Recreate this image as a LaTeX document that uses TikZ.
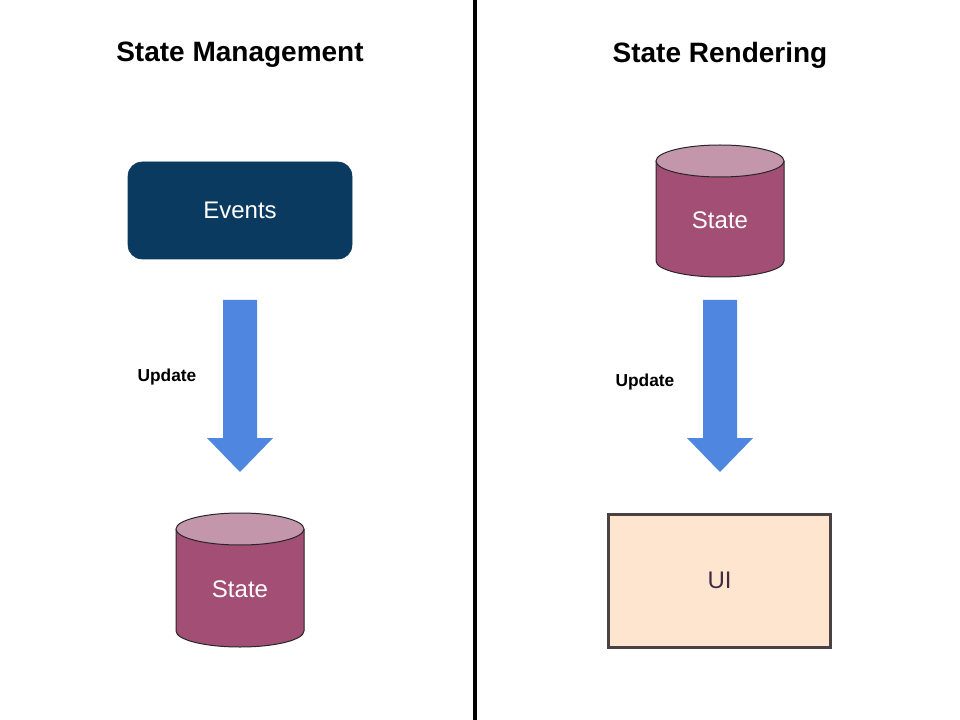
\documentclass[tikz,border=0pt]{standalone}
\usepackage{fontspec}
\setmainfont{Liberation Sans}
\definecolor{evblue}{HTML}{0B3A61}
\definecolor{cylbody}{HTML}{A34F75}
\definecolor{cyltop}{HTML}{C496AC}
\definecolor{arrblue}{HTML}{4F86E0}
\definecolor{uifill}{HTML}{FDE5D0}
\definecolor{uiborder}{HTML}{4A4242}
\definecolor{uitext}{HTML}{3F2A3F}
\begin{document}
\begin{tikzpicture}[x=0.75pt,y=-0.75pt,
  title/.style={font=\bfseries\fontsize{21}{25}\selectfont, text=black},
  updlabel/.style={font=\bfseries\fontsize{13}{16}\selectfont, text=black},
  eventsbox/.style={fill=evblue, draw=evblue, rounded corners=10.5pt, minimum width=168pt, minimum height=72.75pt, inner sep=0pt, text=white, font=\fontsize{18}{22}\selectfont},
  uibox/.style={fill=uifill, draw=uiborder, line width=2.25pt, minimum width=166.5pt, minimum height=99.75pt, inner sep=0pt, text=uitext, font=\fontsize{18}{22}\selectfont},
  celltext/.style={text=white, font=\fontsize{18}{22}\selectfont},
  blockarrow/.style={fill=arrblue, draw=none},
  cylline/.style={draw=black!85, line width=0.75pt}
]
\useasboundingbox (0,0) rectangle (960,720);
\fill[white] (0,0) rectangle (960,720);

% divider
\draw[line width=2.4pt, black] (475,0) -- (475,720);

% titles
\node[title] (tleft) at (240,55) {State Management};
\node[title] (tright) at (720,55) {State Rendering};

% events
\node[eventsbox] (events) at (240,210.5) {\raisebox{-1.5pt}{Events}};

% left arrow
\fill[blockarrow] (223,300) -- (257,300) -- (257,438) -- (273,438) -- (240,472) -- (207,438) -- (223,438) -- cycle;
\node[updlabel] (updl) at (167,377) {Update};

% left cylinder
\path[fill=cylbody, cylline] (176,529) -- (176,631) arc[start angle=180, end angle=360, x radius=48pt, y radius=12pt] -- (304,529);
\draw[fill=cyltop, cylline] (240,529) ellipse[x radius=48pt, y radius=12pt];
\node[celltext] (stateL) at (240,589.5) {State};

% right cylinder
\path[fill=cylbody, cylline] (656,161) -- (656,261) arc[start angle=180, end angle=360, x radius=48pt, y radius=12pt] -- (784,161);
\draw[fill=cyltop, cylline] (720,161) ellipse[x radius=48pt, y radius=12pt];
\node[celltext] (stateR) at (720,220.5) {State};

% right arrow
\fill[blockarrow] (703,300) -- (737,300) -- (737,438) -- (753,438) -- (720,472) -- (687,438) -- (703,438) -- cycle;
\node[updlabel] (updr) at (645,382.5) {Update};

% UI
\node[uibox] (ui) at (719.5,580.5) {UI};
\end{tikzpicture}
\end{document}
